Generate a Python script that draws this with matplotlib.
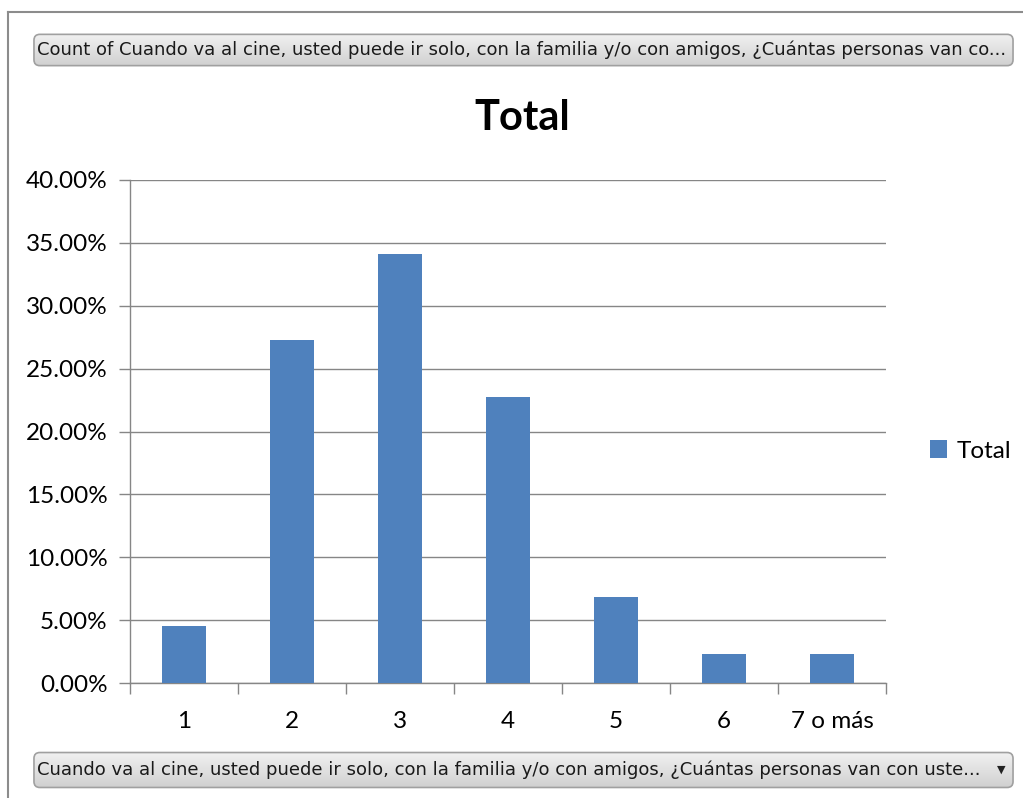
import numpy as np
import matplotlib
matplotlib.use("Agg")
import matplotlib.pyplot as plt
from matplotlib.patches import FancyBboxPatch
from matplotlib.ticker import FuncFormatter

# Data: share of respondents by group size
categories = ["1", "2", "3", "4", "5", "6", "7 o más"]
values = [4.55, 27.27, 34.09, 22.73, 6.82, 2.27, 2.27]
series_name = "Total"
top_button = ("Count of Cuando va al cine, usted puede ir solo, con la familia y/o con "
              "amigos, ¿Cuántas personas van co...")
bottom_button = ("Cuando va al cine, usted puede ir solo, con la familia y/o con amigos, "
                 "¿Cuántas personas van con uste...")

bar_color = "#4F81BD"
grid_color = "#868686"

plt.rcParams['font.family'] = ['Lato', 'DejaVu Sans']

W, H = 1023, 798
fig = plt.figure(figsize=(W / 100, H / 100), dpi=100)

# outer chart frame (left and top edges visible)
fig.add_artist(plt.Line2D([8 / W, 8 / W], [0, 1 - 12 / H], color="#8c8c8c", lw=1.5))
fig.add_artist(plt.Line2D([8 / W, 1], [1 - 12 / H, 1 - 12 / H], color="#8c8c8c", lw=1.5))


def button(x0, y0, x1, y1, text, arrow=False):
    # rounded gray field button with a vertical gradient
    bax = fig.add_axes([x0 / W, 1 - y1 / H, (x1 - x0) / W, (y1 - y0) / H])
    bax.set_xlim(0, 1)
    bax.set_ylim(0, 1)
    bax.axis("off")
    grad = np.linspace(0, 1, 64).reshape(-1, 1)
    im = bax.imshow(grad, cmap=matplotlib.colors.LinearSegmentedColormap.from_list(
        "g", ["#cfcfcf", "#f2f2f2"]), extent=[0, 1, 0, 1], aspect="auto", origin="lower")
    box = FancyBboxPatch((0.002, 0.04), 0.996, 0.92,
                         boxstyle="round,pad=0,rounding_size=0.006",
                         mutation_aspect=(x1 - x0) / (y1 - y0),
                         fc="none", ec="#a0a0a0", lw=1.2, transform=bax.transAxes)
    bax.add_patch(box)
    im.set_clip_path(box)
    bax.text(5 / (x1 - x0), 0.5, text, ha="left", va="center", fontsize=13,
             family="DejaVu Sans", color="#1a1a1a")
    if arrow:
        bax.text(1 - 14 / (x1 - x0), 0.52, "▼", ha="center", va="center", fontsize=8,
                 family="DejaVu Sans", color="#222222")


button(32, 33, 1015, 67, top_button)
button(32, 751, 1015, 789, bottom_button, arrow=True)

# main plot area
ax = fig.add_axes([130 / W, 1 - 683 / H, 756 / W, 503 / H])
x = np.arange(len(categories))
ax.bar(x, values, width=0.4, color=bar_color, zorder=3, label=series_name)
ax.set_xlim(-0.5, len(categories) - 0.5)
ax.set_ylim(0, 40)
ax.set_yticks(np.arange(0, 41, 5))
ax.yaxis.set_major_formatter(FuncFormatter(lambda v, p: f"{v:.2f}%"))
ax.grid(axis="y", color=grid_color, lw=1, zorder=0)
ax.set_xticks(x)
ax.set_xticklabels(categories)
ax.set_xticks(np.arange(-0.5, len(categories)), minor=True)
ax.tick_params(axis="x", which="major", length=0, pad=20, labelsize=17.5)
ax.tick_params(axis="x", which="minor", length=8, color=grid_color, width=1)
ax.tick_params(axis="y", length=8, color=grid_color, width=1, labelsize=17.5, pad=8)
for s in ["top", "right"]:
    ax.spines[s].set_visible(False)
for s in ["left", "bottom"]:
    ax.spines[s].set_color(grid_color)
    ax.spines[s].set_linewidth(1)

fig.text(522 / W, 1 - 118 / H, "Total", ha="center", va="center",
         fontsize=30, fontweight="bold")

ax.legend(loc="center left", bbox_to_anchor=(908 / W, 1 - 451 / H),
          bbox_transform=fig.transFigure, frameon=False, fontsize=17.5,
          handlelength=0.7, handleheight=0.7, handletextpad=0.4)

fig.savefig("out.png", dpi=100)
